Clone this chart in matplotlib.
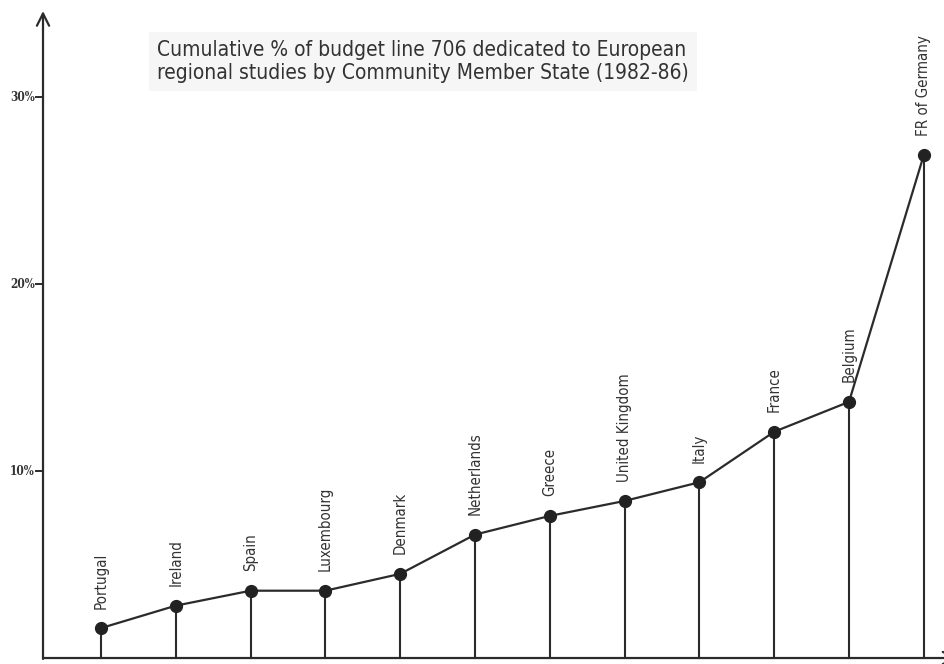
import matplotlib
matplotlib.use("Agg")
import matplotlib.pyplot as plt

plt.rcParams['font.family'] = ['DejaVu Sans']

# cumulative % of budget line 706
countries = ['Portugal', 'Ireland', 'Spain', 'Luxembourg', 'Denmark', 'Netherlands',
             'Greece', 'United Kingdom', 'Italy', 'France', 'Belgium', 'FR of Germany']
cum_pct = [1.6, 2.8, 3.6, 3.6, 4.5, 6.6, 7.6, 8.4, 9.4, 12.1, 13.7, 26.9]
yticks = [10, 20, 30]
ytick_labels = ['10%', '20%', '30%']

ink = '#2b2b2b'
xs = list(range(len(countries)))

fig = plt.figure(figsize=(9.44, 6.64), dpi=100)
ax = fig.add_axes([0, 0, 1, 1])
ax.set_xlim(-1.35, 11.27)
ax.set_ylim(-0.32, 35.19)
ax.axis('off')

x_axis = -0.775

# axes drawn as arrows
ax.annotate('', xy=(x_axis, 34.6), xytext=(x_axis, -0.05), annotation_clip=False,
            arrowprops=dict(arrowstyle='->', color=ink, lw=1.6,
                            mutation_scale=22, shrinkA=0, shrinkB=0))
ax.annotate('', xy=(11.45, 0), xytext=(x_axis, 0), annotation_clip=False,
            arrowprops=dict(arrowstyle='->', color=ink, lw=1.6,
                            mutation_scale=22, shrinkA=0, shrinkB=0))

# ticks on y axis
for t, lab in zip(yticks, ytick_labels):
    ax.plot([x_axis - 0.09, x_axis], [t, t], color=ink, lw=1.4)
    ax.text(x_axis - 0.11, t, lab, ha='right', va='center', fontsize=8.5,
            fontweight='bold', color='#333333', family=['DejaVu Serif'],
            fontstretch='condensed')

# drop lines
ax.vlines(xs, 0, cum_pct, color=ink, lw=1.5)
# line with points
ax.plot(xs, cum_pct, color=ink, lw=1.6, marker='o', markersize=8.5,
        markerfacecolor='#222222', markeredgecolor='#222222', zorder=3)

for x, y, name in zip(xs, cum_pct, countries):
    ax.annotate(name, (x, y), xytext=(0, 14), textcoords='offset points',
                rotation=90, ha='center', va='bottom', fontsize=10.8,
                fontstretch='condensed', color='#333333')

ax.text(0.750, 31.9,
        'Cumulative % of budget line 706 dedicated to European\n'
        'regional studies by Community Member State (1982-86)',
        ha='left', va='center', fontsize=15, fontstretch='condensed',
        color='#333333', linespacing=1.15,
        bbox=dict(boxstyle='square,pad=0.4', facecolor='#f6f6f6', edgecolor='none'))

fig.savefig('out.png', dpi=100)
